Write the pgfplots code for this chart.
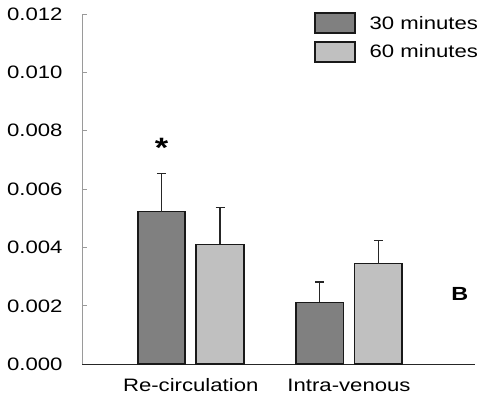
\documentclass[border=0pt]{standalone}
\usepackage{fontspec}
\setmainfont[FakeStretch=1.23]{Liberation Sans}
\usepackage{pgfplots}
\pgfplotsset{compat=1.18}
\definecolor{darkbar}{HTML}{808080}
\definecolor{lightbar}{HTML}{C0C0C0}
\definecolor{yaxisgray}{HTML}{9A9A9A}
\begin{document}
\begin{tikzpicture}[font=\fontsize{18bp}{21bp}\selectfont]
\useasboundingbox (0,0) rectangle (482bp,400bp);
\begin{axis}[
  at={(82bp,35.7bp)}, anchor=south west,
  scale only axis, width=393bp, height=350.3bp,
  xmin=-0.687, xmax=1.796,
  ymin=0, ymax=0.012,
  axis x line*=bottom, axis y line*=left,
  x axis line style={-, line width=1.2bp, black!85},
  y axis line style={-, line width=0.9bp, yaxisgray},
  xtick={0,1}, xticklabels={Re-circulation, Intra-venous},
  xtick style={draw=none},
  xticklabel style={yshift=-6bp, font=\fontsize{18bp}{21bp}\selectfont},
  ytick={0,0.002,0.004,0.006,0.008,0.010,0.012},
  yticklabels={0.000,0.002,0.004,0.006,0.008,0.010,0.012},
  yticklabel style={xshift=-16bp, font=\fontsize{18bp}{21bp}\selectfont},
  scaled y ticks=false,
  ytick style={draw=yaxisgray, line width=0.9bp},
  tick align=inside, major tick length=5bp,
  ybar, bar width=0.3, bar shift=0pt,
  clip=false,
  legend cell align=left,
  legend style={at={(0.59,1.005)}, anchor=north west, draw=none, fill=none, inner sep=0pt, row sep=7bp, font=\fontsize{18bp}{21bp}\selectfont},
  legend image code/.code={\draw[#1] (0bp,-10bp) rectangle (40bp,10bp); \path (52bp,0bp);},
  error bars/y dir=plus, error bars/y explicit,
  error bars/error bar style={line width=1.3bp, black!85},
  error bars/error mark options={rotate=90, mark size=4.5bp, line width=1.3bp, black!85},
]
\addplot[fill=darkbar, draw=black!90, line width=1.6bp] coordinates {(-0.185,0.00523) +- (0,0.00131) (0.815,0.00212) +- (0,0.00070)};
\addlegendentry{30 minutes}
\addplot[fill=lightbar, draw=black!90, line width=1.6bp] coordinates {(0.185,0.00411) +- (0,0.00127) (1.185,0.00345) +- (0,0.00080)};
\addlegendentry{60 minutes}
\node[font=\fontsize{28bp}{28bp}\selectfont\bfseries] at (axis cs:-0.185,0.0074) {*};
\node[font=\fontsize{19bp}{20bp}\selectfont\bfseries] at (axis cs:1.70,0.0024) {B};
\end{axis}
\end{tikzpicture}
\end{document}
